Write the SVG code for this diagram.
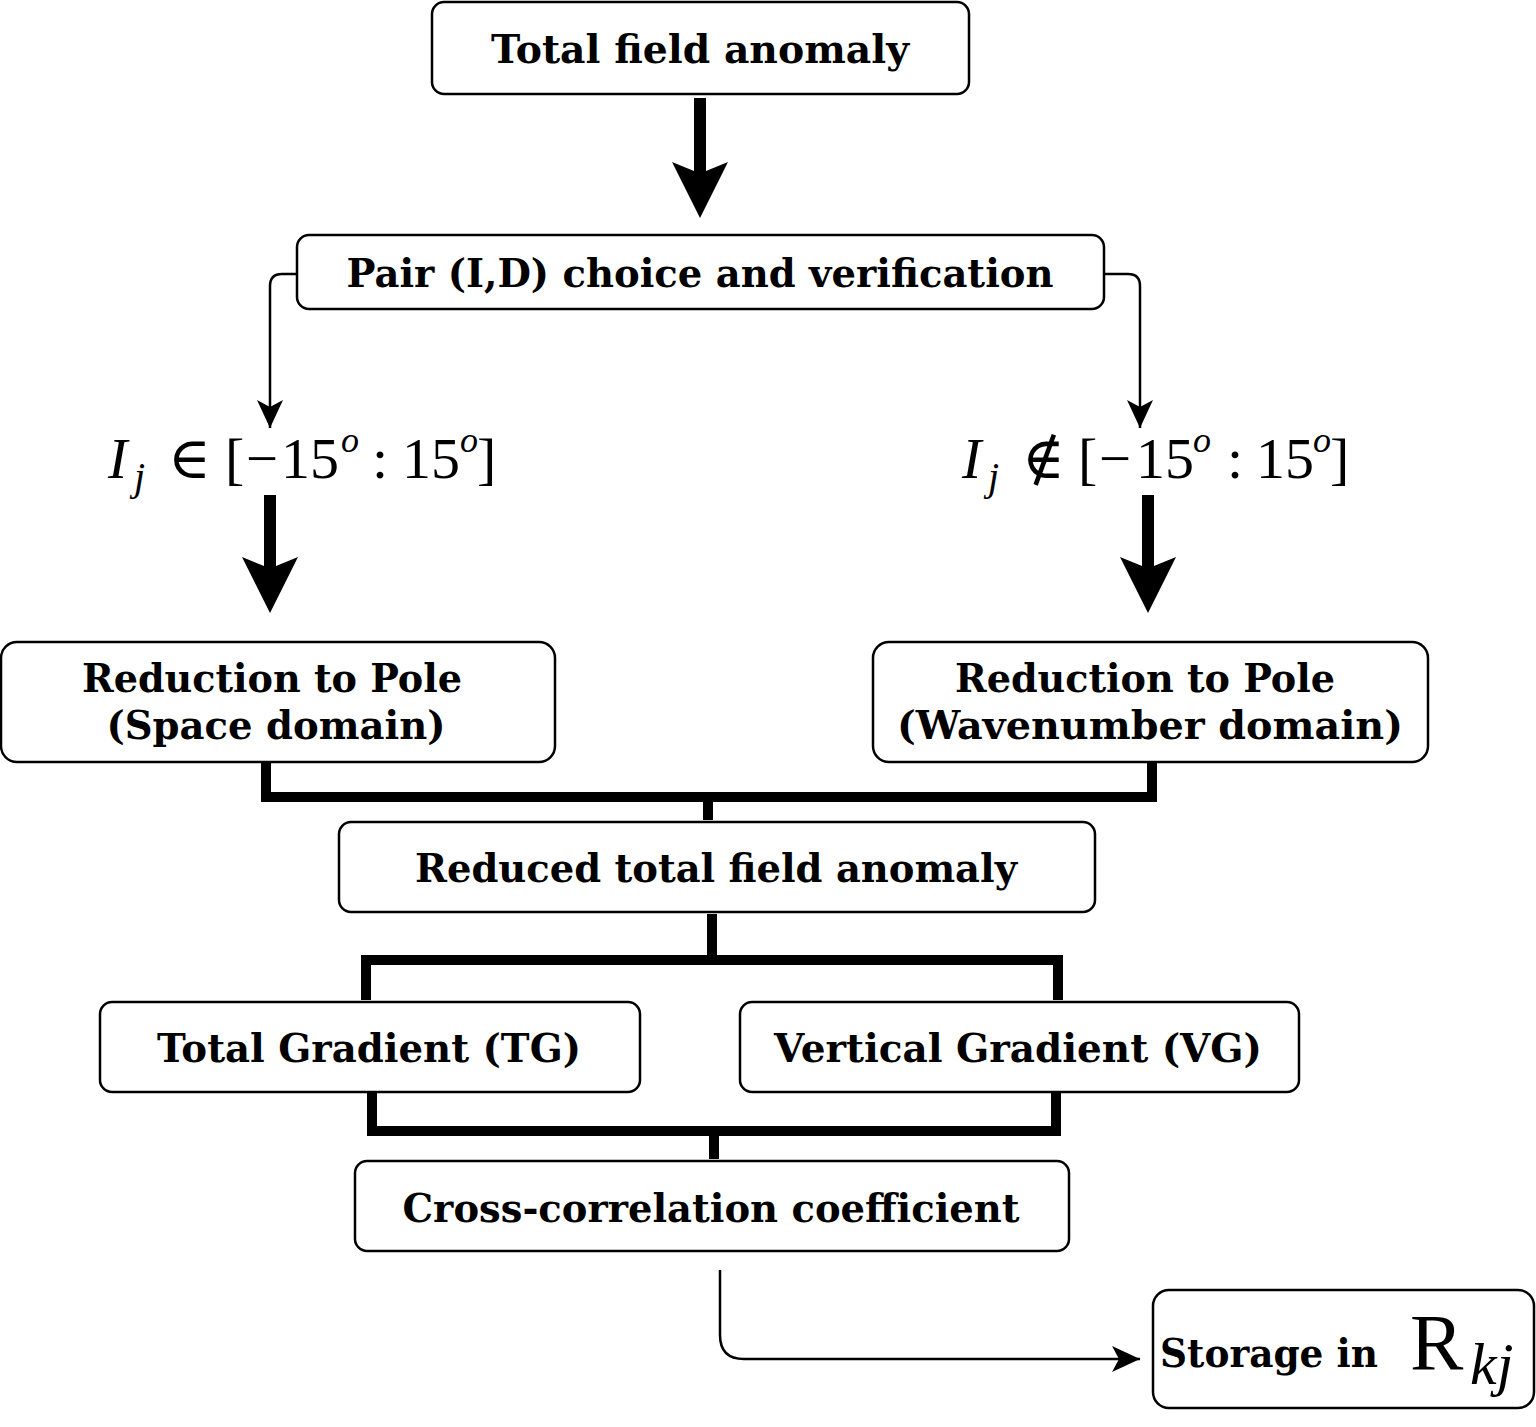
<svg xmlns="http://www.w3.org/2000/svg" width="1536" height="1427" viewBox="0 0 1536 1427">
<style>
.box{fill:#fff;stroke:#000;stroke-width:2.5}
.lbl{font-family:"DejaVu Serif","Liberation Serif",serif;font-weight:bold;font-size:40px;fill:#000;text-anchor:middle}
.thin{fill:none;stroke:#000;stroke-width:2.5}
.thick{fill:none;stroke:#000;stroke-width:10;stroke-linejoin:miter;stroke-linecap:square}
.math{font-family:"Liberation Serif","DejaVu Serif",serif;font-size:58px;fill:#000}
.sup{font-family:"Liberation Serif","DejaVu Serif",serif;font-size:36px;font-style:italic;fill:#000}
.it{font-style:italic}
</style>
<defs>
<marker id="ah" markerUnits="userSpaceOnUse" markerWidth="30" markerHeight="30" viewBox="0 0 30 30" refX="28" refY="15" orient="auto">
<path d="M0,2 L28,15 L0,28 L7,15 Z" fill="#000"/>
</marker>
</defs>
<g id="connectors">
<path d="M694,98 H706 V171 L728,162 L700,218 L672,162 L694,171 Z" fill="#000"/>
<path class="thin" d="M297,274 H282 Q270,274 270,286 V428" marker-end="url(#ah)"/>
<path class="thin" d="M1104,274 H1128 Q1140,274 1140,286 V428" marker-end="url(#ah)"/>
<path d="M264,495 H276 V566 L298,557 L270,613 L242,557 L264,566 Z" fill="#000"/>
<path d="M1142,495 H1154 V566 L1176,557 L1148,613 L1120,557 L1142,566 Z" fill="#000"/>
<path class="thick" d="M266,766 V797 H1152 V766"/>
<path class="thick" d="M708,797 V820" style="stroke-linecap:butt"/>
<path class="thick" d="M712,914 V960" style="stroke-linecap:butt"/>
<path class="thick" d="M366,1000 V960 H1058 V1000" style="stroke-linecap:butt"/>
<path class="thick" d="M372,1096 V1131 H1056 V1096"/>
<path class="thick" d="M714,1131 V1159" style="stroke-linecap:butt"/>
<path class="thin" d="M720,1270 V1335 Q720,1359 744,1359 H1140" marker-end="url(#ah)"/>
</g>
<g id="n1"><rect class="box" x="432" y="2" width="537" height="92" rx="12"/><text class="lbl" x="700" y="63" textLength="418" lengthAdjust="spacingAndGlyphs">Total field anomaly</text></g>
<g id="n2"><rect class="box" x="297" y="235" width="807" height="74" rx="12"/><text class="lbl" x="700" y="287" textLength="707" lengthAdjust="spacingAndGlyphs">Pair (I,D) choice and verification</text></g>
<g id="m1">
<text class="math it" x="108" y="478">I</text>
<text class="math it" x="134" y="490" style="font-size:40px">j</text>
<text class="math" x="168" y="478">∈</text>
<text class="math" x="225" y="478">[</text>
<text class="math" x="246" y="478" textLength="32" lengthAdjust="spacingAndGlyphs">−</text>
<text class="math" x="281" y="478">15</text>
<text class="sup" x="341" y="452">o</text>
<text class="math" x="372" y="478">:</text>
<text class="math" x="402" y="478">15</text>
<text class="sup" x="460" y="452">o</text>
<text class="math" x="477" y="478">]</text>
</g>
<g id="m2">
<text class="math it" x="962" y="478">I</text>
<text class="math it" x="988" y="490" style="font-size:40px">j</text>
<text class="math" x="1022" y="478">∉</text>
<text class="math" x="1078" y="478">[</text>
<text class="math" x="1099" y="478" textLength="32" lengthAdjust="spacingAndGlyphs">−</text>
<text class="math" x="1136" y="478">15</text>
<text class="sup" x="1193" y="452">o</text>
<text class="math" x="1227" y="478">:</text>
<text class="math" x="1256" y="478">15</text>
<text class="sup" x="1313" y="452">o</text>
<text class="math" x="1330" y="478">]</text>
</g>
<g id="n3"><rect class="box" x="1" y="642" width="554" height="120" rx="16"/><text class="lbl" x="272" y="692" textLength="380" lengthAdjust="spacingAndGlyphs">Reduction to Pole</text><text class="lbl" x="276" y="739" textLength="339" lengthAdjust="spacingAndGlyphs">(Space domain)</text></g>
<g id="n4"><rect class="box" x="873" y="642" width="555" height="120" rx="16"/><text class="lbl" x="1145" y="692" textLength="380" lengthAdjust="spacingAndGlyphs">Reduction to Pole</text><text class="lbl" x="1150" y="739" textLength="506" lengthAdjust="spacingAndGlyphs">(Wavenumber domain)</text></g>
<g id="n5"><rect class="box" x="339" y="822" width="756" height="90" rx="12"/><text class="lbl" x="716" y="882" textLength="602" lengthAdjust="spacingAndGlyphs">Reduced total field anomaly</text></g>
<g id="n6"><rect class="box" x="100" y="1002" width="540" height="90" rx="12"/><text class="lbl" x="369" y="1062" textLength="424" lengthAdjust="spacingAndGlyphs">Total Gradient (TG)</text></g>
<g id="n7"><rect class="box" x="740" y="1002" width="559" height="90" rx="12"/><text class="lbl" x="1018" y="1062" textLength="488" lengthAdjust="spacingAndGlyphs">Vertical Gradient (VG)</text></g>
<g id="n8"><rect class="box" x="355" y="1161" width="714" height="90" rx="12"/><text class="lbl" x="711" y="1222" textLength="617" lengthAdjust="spacingAndGlyphs">Cross-correlation coefficient</text></g>
<g id="n9"><rect class="box" x="1153" y="1290" width="381" height="118" rx="16"/>
<text class="lbl" x="1269" y="1367" textLength="218" lengthAdjust="spacingAndGlyphs">Storage in</text>
<text class="math" x="1410" y="1370" style="font-size:80px">R</text>
<text class="math it" x="1470" y="1384" style="font-size:60px">kj</text>
</g>
</svg>
